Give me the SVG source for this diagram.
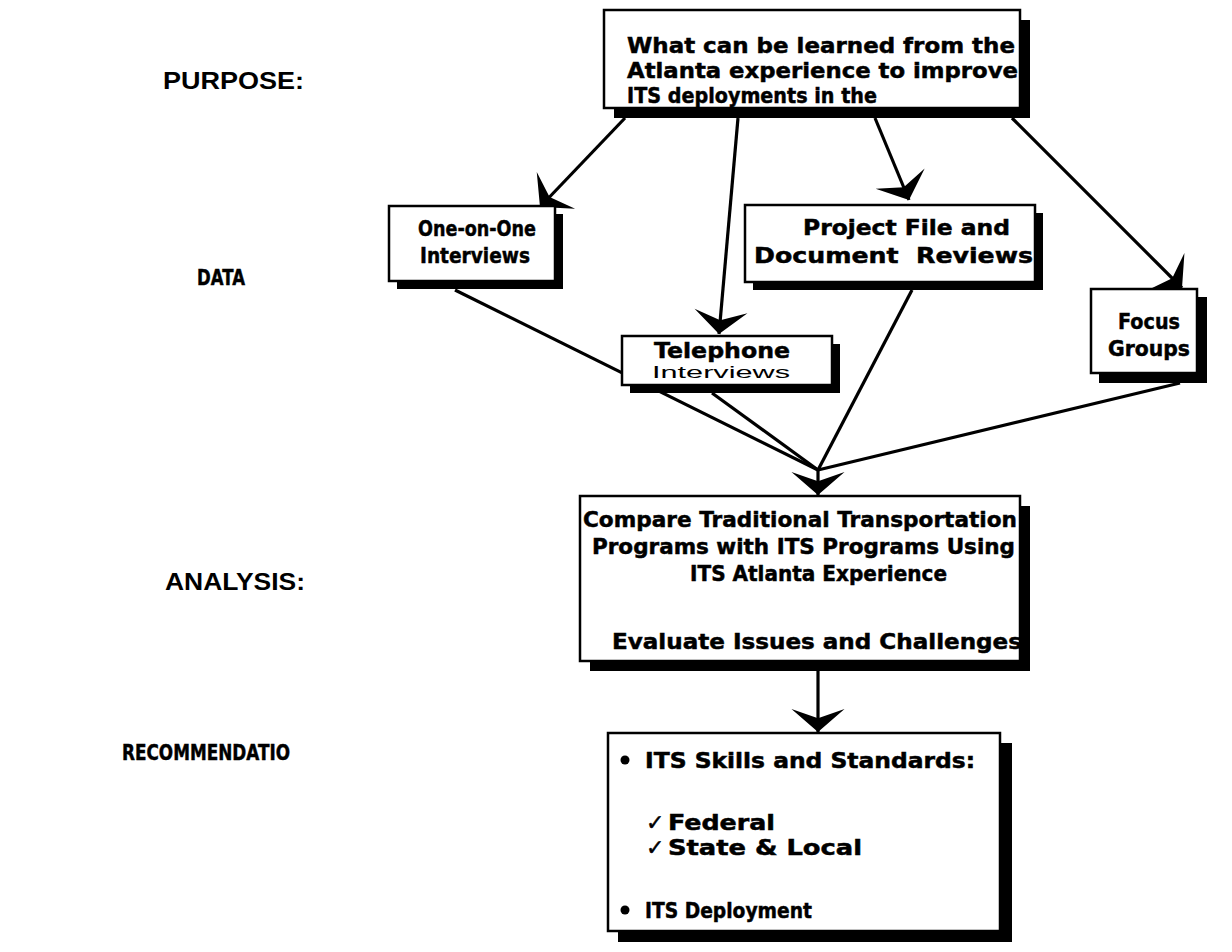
<svg xmlns="http://www.w3.org/2000/svg" width="1232" height="952" viewBox="0 0 1232 952">
<defs>
<style>
.lbl{font-family:"Liberation Sans",Arial,sans-serif;font-weight:bold;font-size:23px;fill:#000}
.lblc{font-family:"DejaVu Sans","Liberation Sans",sans-serif;font-weight:bold;font-size:22px;fill:#000;stroke:#000;stroke-width:0.5}
.t{font-family:"DejaVu Sans","Liberation Sans",sans-serif;font-weight:bold;font-size:22px;fill:#000;stroke:#000;stroke-width:0.5}
.tr{font-family:"Liberation Sans",Arial,sans-serif;font-size:17px;fill:#000}
.box{fill:#fff;stroke:#000;stroke-width:2.5}
.sh{fill:#000}
.con{fill:none;stroke:#000;stroke-width:3.2}
</style>
<marker id="ah" markerUnits="userSpaceOnUse" markerWidth="40" markerHeight="60" viewBox="-2 -26 26 52" refX="20" refY="0" orient="auto">
<path d="M20,0 L0,-23 L8,0 L0,23 Z" fill="#000"/>
</marker>
</defs>

<g id="side-labels">
<text class="lbl" x="163" y="89" textLength="141" lengthAdjust="spacingAndGlyphs">PURPOSE:</text>
<text class="lblc" x="197" y="285" textLength="48" lengthAdjust="spacingAndGlyphs">DATA</text>
<text class="lbl" x="165" y="590" textLength="140" lengthAdjust="spacingAndGlyphs">ANALYSIS:</text>
<text class="lblc" x="122" y="760" textLength="168" lengthAdjust="spacingAndGlyphs">RECOMMENDATIO</text>
</g>

<g id="connectors">
<line class="con" x1="625" y1="118" x2="540" y2="207" marker-end="url(#ah)"/>
<line class="con" x1="738" y1="118" x2="719" y2="334" marker-end="url(#ah)"/>
<line class="con" x1="875" y1="118" x2="909" y2="200" marker-end="url(#ah)"/>
<line class="con" x1="1012" y1="118" x2="1182" y2="288" marker-end="url(#ah)"/>
<line class="con" x1="455" y1="290" x2="818" y2="470"/>
<line class="con" x1="712" y1="393" x2="818" y2="470"/>
<line class="con" x1="912" y1="290" x2="818" y2="470"/>
<line class="con" x1="1180" y1="383" x2="818" y2="470"/>
<line class="con" x1="818" y1="470" x2="818" y2="495" marker-end="url(#ah)"/>
<line class="con" x1="818" y1="670" x2="818" y2="732" marker-end="url(#ah)"/>
</g>

<g id="purpose">
<rect class="sh" x="614" y="20" width="416" height="98"/>
<rect class="box" x="604" y="10" width="416" height="98"/>
<text class="t" x="627" y="53" textLength="388" lengthAdjust="spacingAndGlyphs">What can be learned from the</text>
<text class="t" x="627" y="78" textLength="391" lengthAdjust="spacingAndGlyphs">Atlanta experience to improve</text>
<text class="t" x="627" y="103" textLength="250" lengthAdjust="spacingAndGlyphs">ITS deployments in the</text>
</g>

<g id="one-on-one">
<rect class="sh" x="397" y="214" width="166" height="75"/>
<rect class="box" x="389" y="206" width="166" height="75"/>
<text class="t" x="418" y="236" textLength="118" lengthAdjust="spacingAndGlyphs">One-on-One</text>
<text class="t" x="420" y="263" textLength="110" lengthAdjust="spacingAndGlyphs">Interviews</text>
</g>

<g id="project-file">
<rect class="sh" x="753" y="213" width="290" height="77"/>
<rect class="box" x="745" y="205" width="290" height="77"/>
<text class="t" x="803" y="235" textLength="207" lengthAdjust="spacingAndGlyphs">Project File and</text>
<text class="t" x="754" y="263" textLength="279" lengthAdjust="spacingAndGlyphs" xml:space="preserve">Document  Reviews</text>
</g>

<g id="telephone">
<rect class="sh" x="630" y="344" width="210" height="49"/>
<rect class="box" x="622" y="336" width="210" height="49"/>
<text class="t" x="654" y="358" font-size="20" textLength="136" lengthAdjust="spacingAndGlyphs">Telephone</text>
<text class="tr" x="652" y="378" textLength="138" lengthAdjust="spacingAndGlyphs">Interviews</text>
</g>

<g id="focus-groups">
<rect class="sh" x="1099" y="297" width="108" height="86"/>
<rect class="box" x="1091" y="289" width="106" height="84"/>
<text class="t" x="1118" y="329" textLength="62" lengthAdjust="spacingAndGlyphs">Focus</text>
<text class="t" x="1108" y="356" textLength="82" lengthAdjust="spacingAndGlyphs">Groups</text>
</g>

<g id="analysis">
<rect class="sh" x="590" y="506" width="440" height="165"/>
<rect class="box" x="580" y="496" width="440" height="165"/>
<text class="t" x="583" y="527" textLength="434" lengthAdjust="spacingAndGlyphs">Compare Traditional Transportation</text>
<text class="t" x="592" y="554" textLength="423" lengthAdjust="spacingAndGlyphs">Programs with ITS Programs Using</text>
<text class="t" x="690" y="581" textLength="257" lengthAdjust="spacingAndGlyphs">ITS Atlanta Experience</text>
<text class="t" x="612" y="649" textLength="410" lengthAdjust="spacingAndGlyphs">Evaluate Issues and Challenges</text>
</g>

<g id="recommendations">
<rect class="sh" x="618" y="743" width="394" height="199"/>
<rect class="box" x="608" y="733" width="392" height="198"/>
<circle cx="625" cy="760" r="4.5"/>
<text class="t" x="645" y="768" textLength="330" lengthAdjust="spacingAndGlyphs">ITS Skills and Standards:</text>
<text class="t" x="646" y="830" font-size="24">✓</text>
<text class="t" x="668" y="830" textLength="107" lengthAdjust="spacingAndGlyphs">Federal</text>
<text class="t" x="646" y="855" font-size="24">✓</text>
<text class="t" x="668" y="855" textLength="194" lengthAdjust="spacingAndGlyphs">State &amp; Local</text>
<circle cx="625" cy="910" r="4.5"/>
<text class="t" x="645" y="918" textLength="167" lengthAdjust="spacingAndGlyphs">ITS Deployment</text>
</g>
</svg>
